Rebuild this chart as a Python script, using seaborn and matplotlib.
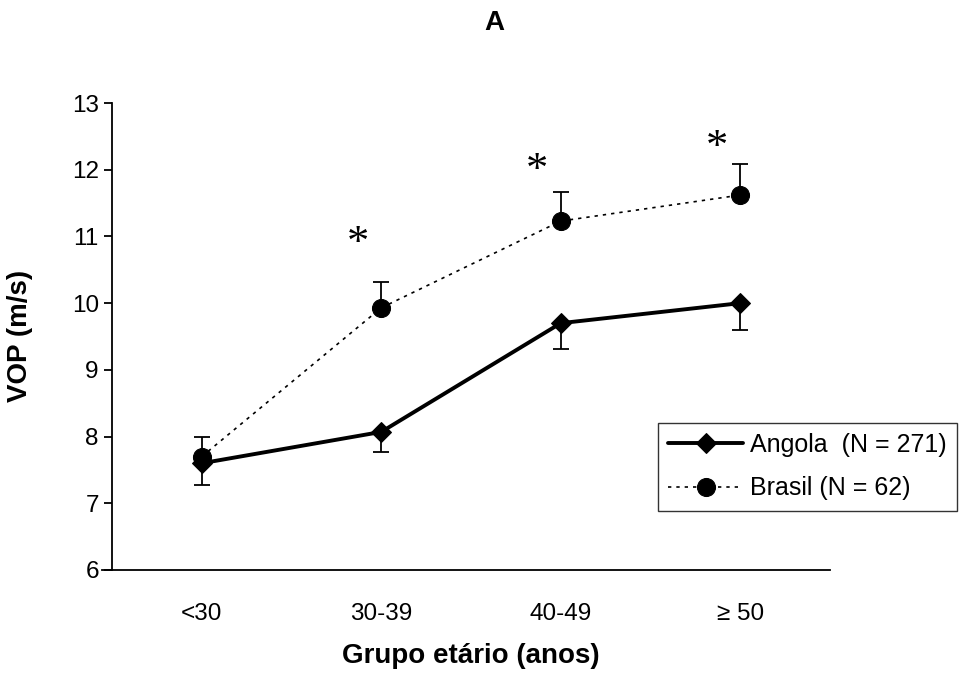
import matplotlib
matplotlib.use("Agg")
import matplotlib.pyplot as plt
import seaborn as sns
import numpy as np
import pandas as pd

categories = ["<30", "30-39", "40-49", "\u2265 50"]
angola = [7.6, 8.07, 9.7, 10.0]
angola_err_low = [0.32, 0.3, 0.38, 0.4]
brasil = [7.7, 9.93, 11.23, 11.62]
brasil_err_up = [0.3, 0.38, 0.43, 0.46]
star_y = [None, 10.88, 11.98, 12.32]
labels = ["Angola  (N = 271)", "Brasil (N = 62)"]

sns.set_style("white")
plt.rcParams['font.family'] = ['Liberation Sans', 'DejaVu Sans']
plt.rcParams['text.color'] = 'black'
plt.rcParams['axes.labelcolor'] = 'black'
plt.rcParams['xtick.color'] = 'black'
plt.rcParams['ytick.color'] = 'black'

W, H = 972, 673
fig = plt.figure(figsize=(W/100, H/100), dpi=100)
ax = fig.add_axes([102/W, 1-570/H, (830-102)/W, (570-103)/H])

xpos = np.arange(len(categories)) + 0.5
df = pd.DataFrame({
    "x": np.concatenate([xpos, xpos]),
    "y": angola + brasil,
    "serie": [labels[0]]*4 + [labels[1]]*4,
})

ax.errorbar(xpos, angola, yerr=[angola_err_low, [0]*4], fmt="none", ecolor="black",
            elinewidth=1.3, capsize=5.5, capthick=1.3, zorder=1)
ax.errorbar(xpos, brasil, yerr=[[0]*4, brasil_err_up], fmt="none", ecolor="black",
            elinewidth=1.3, capsize=5.5, capthick=1.3, zorder=1)

sns.lineplot(data=df[df.serie == labels[0]], x="x", y="y", ax=ax, color="black",
             linewidth=2.8, marker="D", markersize=10, markeredgecolor="black",
             label=labels[0], zorder=3)
sns.lineplot(data=df[df.serie == labels[1]], x="x", y="y", ax=ax, color="black",
             linewidth=1.2, linestyle=(0, (2, 3)), marker="o", markersize=13,
             markeredgecolor="black", label=labels[1], zorder=3)

for xp, sy in zip(xpos, star_y):
    if sy is not None:
        ax.text(xp - 0.13, sy, "*", ha="center", va="center", fontsize=32,
                color="black", family=["Liberation Serif", "DejaVu Serif"])

ax.set_xlim(-10/179.5, 4)
ax.set_ylim(6, 13)
ax.spines["left"].set_position(("data", 0))
ax.set_yticks(range(6, 14))
ax.set_xticks(xpos)
ax.set_xticklabels(categories)
ax.set_xticks(np.arange(0, 5), minor=True)
ax.tick_params(axis="x", which="major", length=0, pad=24, labelsize=17.5, labelcolor="black")
ax.tick_params(axis="x", which="minor", length=6, width=1.3, direction="out", color="black")
ax.tick_params(axis="y", length=6, width=1.3, direction="out", color="black",
               labelsize=17.5, labelcolor="black", left=True)
for s in ["top", "right"]:
    ax.spines[s].set_visible(False)
for s in ["left", "bottom"]:
    ax.spines[s].set_color("black")
    ax.spines[s].set_linewidth(1.3)

ax.set_xlabel("Grupo et\u00e1rio (anos)", fontsize=20, fontweight="bold", color="black")
ax.set_ylabel("VOP (m/s)", fontsize=20, fontweight="bold", color="black")
ax.xaxis.set_label_coords(471/W, 1-643/H, transform=fig.transFigure)
ax.yaxis.set_label_coords(33/W, 1-336/H, transform=fig.transFigure)
fig.text(494/W, 1-23/H, "A", ha="center", va="center", fontsize=20, fontweight="bold",
         color="black")

leg = ax.legend(loc="upper left", bbox_to_anchor=(658/W, 1-423/H),
                bbox_transform=fig.transFigure, frameon=True, fancybox=False,
                edgecolor="black", fontsize=18, handlelength=3.0, handletextpad=0.3,
                borderpad=0.4, labelspacing=0.78, borderaxespad=0)
leg.get_frame().set_linewidth(1.0)
for t in leg.get_texts():
    t.set_color("black")

fig.savefig("out.png", dpi=100)
